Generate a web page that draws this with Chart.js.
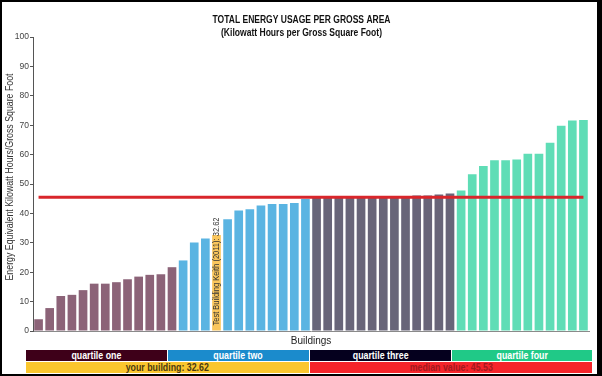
<!DOCTYPE html>
<html lang="en">
<head>
    <meta charset="UTF-8">
    <title>Total Energy Usage per Gross Area</title>
    <script src="https://cdn.jsdelivr.net/npm/chart.js"></script>
    <style>
        body {
            margin: 0;
            padding: 0;
            background-color: #ffffff;
            font-family: "Liberation Sans", Arial, sans-serif;
        }

        #wrap {
            position: relative;
            width: 602px;
            height: 376px;
            overflow: hidden;
        }

        #chart {
            position: absolute;
            left: 0;
            top: 0;
        }

        #frame {
            position: absolute;
            left: 0;
            top: 0;
            width: 602px;
            height: 376px;
            box-sizing: border-box;
            border: 2px solid #000;
            border-right-width: 5px;
            pointer-events: none;
        }

        .key {
            position: absolute;
            height: 11px;
            line-height: 11px;
            font-size: 10px;
            font-weight: bold;
            text-align: center;
            white-space: nowrap;
            overflow: hidden;
        }

        .key span {
            display: inline-block;
            transform: scaleX(0.88);
        }
    </style>
</head>
<body>
<div id="wrap">
    <canvas id="chart" width="602" height="348"></canvas>

    <div class="key" style="left:26px;top:350px;width:141px;background:#3e0019;color:#fff;"><span>quartile one</span></div>
    <div class="key" style="left:168px;top:350px;width:141px;background:#1b8bcc;color:#fff;"><span>quartile two</span></div>
    <div class="key" style="left:310px;top:350px;width:141px;background:#05001e;color:#fff;"><span>quartile three</span></div>
    <div class="key" style="left:452px;top:350px;width:140px;background:#20c987;color:#fff;"><span>quartile four</span></div>
    <div class="key" id="yourKey" style="left:26px;top:362px;width:283px;background:#fac62e;color:#4a3a10;"><span></span></div>
    <div class="key" id="medianKey" style="left:310px;top:362px;width:282px;background:#f5242a;color:#a11a1f;"><span></span></div>

    <div id="frame"></div>
</div>

<script>
    // values, sorted within each quartile
    const quartileOne = [4.0, 7.8, 11.9, 12.3, 13.9, 16.1, 16.1, 16.6, 17.6, 18.5, 19.1, 19.3, 21.7];
    const quartileTwo = [24.0, 30.1, 31.5, 32.62, 38.0, 41.0, 41.4, 42.7, 43.2, 43.2, 43.5, 44.9];
    const quartileThree = [45.3, 45.3, 45.3, 45.3, 45.3, 45.3, 45.4, 45.8, 45.8, 46.1, 46.1, 46.4, 46.8];
    const quartileFour = [47.8, 53.3, 56.1, 58.1, 58.1, 58.3, 60.3, 60.3, 64.0, 69.8, 71.6, 71.8];

    const yourBuilding = 32.62;
    const yourBuildingName = 'Test Building Keith (2011)';
    const medianValue = 45.53;

    const quartileColors = ['#8c6378', '#5ab4e2', '#686579', '#5fddb6'];
    const yourColor = '#fac65c';

    // build the flat series
    const values = [];
    const colors = [];
    let yourIndex = -1;
    [quartileOne, quartileTwo, quartileThree, quartileFour].forEach((q, qi) => {
        q.forEach(v => {
            if (v === yourBuilding && yourIndex < 0) {
                yourIndex = values.length;
                colors.push(yourColor);
            } else {
                colors.push(quartileColors[qi]);
            }
            values.push(v);
        });
    });
    const labels = values.map((v, i) => 'Building ' + (i + 1));

    document.querySelector('#yourKey span').textContent = 'your building: ' + yourBuilding;
    document.querySelector('#medianKey span').textContent = 'median value: ' + medianValue;

    // draw text squeezed to a given width (the original uses a narrow face)
    function fitText(ctx, text, x, y, width, font, color, angle) {
        ctx.save();
        ctx.font = font;
        ctx.fillStyle = color;
        ctx.textAlign = 'center';
        ctx.textBaseline = 'middle';
        ctx.translate(x, y);
        if (angle) ctx.rotate(angle);
        const w = ctx.measureText(text).width;
        ctx.scale(width / w, 1);
        ctx.fillText(text, 0, 0);
        ctx.restore();
    }

    const headerPlugin = {
        id: 'header',
        afterDraw(chart) {
            const ctx = chart.ctx;
            fitText(ctx, 'TOTAL ENERGY USAGE PER GROSS AREA', 301.5, 20, 178, 'bold 11px "Liberation Sans", Arial', '#111');
            fitText(ctx, '(Kilowatt Hours per Gross Square Foot)', 301.5, 33, 161, 'bold 11px "Liberation Sans", Arial', '#111');
            // y axis title
            fitText(ctx, 'Energy Equivalent Kilowatt Hours/Gross Square Foot', 10, 177, 207, '10px "Liberation Sans", Arial', '#333', -Math.PI / 2);
        }
    };

    const yourLabelPlugin = {
        id: 'yourLabel',
        afterDatasetsDraw(chart) {
            const meta = chart.getDatasetMeta(0);
            const bar = meta.data[yourIndex];
            if (!bar) return;
            const text = yourBuildingName + ': ' + yourBuilding;
            const len = 108;
            fitText(chart.ctx, text, bar.x + 0.5, bar.base - 5 - len / 2, len, '9px "Liberation Sans", Arial', '#333', -Math.PI / 2);
        }
    };

    const ctx = document.getElementById('chart').getContext('2d');
    new Chart(ctx, {
        type: 'bar',
        data: {
            labels: labels,
            datasets: [{
                type: 'bar',
                label: 'Buildings',
                data: values,
                backgroundColor: colors,
                borderWidth: 0,
                barPercentage: 0.78,
                categoryPercentage: 1,
                order: 1
            }, {
                type: 'line',
                label: 'Median',
                data: labels.map(() => medianValue),
                borderColor: '#d9262b',
                borderWidth: 3,
                pointRadius: 0,
                fill: false,
                order: 0
            }]
        },
        options: {
            responsive: false,
            animation: false,
            layout: {
                padding: { left: 0, right: 13, top: 37, bottom: 0 }
            },
            plugins: {
                legend: { display: false },
                tooltip: { enabled: false }
            },
            scales: {
                x: {
                    ticks: { display: false },
                    grid: { display: false },
                    border: { color: '#8a8a8a', width: 1 },
                    title: {
                        display: true,
                        text: 'Buildings',
                        color: '#222',
                        font: { size: 10, family: '"Liberation Sans", Arial' },
                        padding: { top: 0, bottom: 1 }
                    },
                    afterFit(scale) {
                        scale.height = 17;
                    }
                },
                y: {
                    min: 0,
                    max: 100,
                    ticks: {
                        stepSize: 10,
                        color: '#444',
                        padding: 1,
                        font: { size: 8.5, family: '"Liberation Sans", Arial' }
                    },
                    grid: {
                        drawOnChartArea: false,
                        tickLength: 3,
                        color: '#555'
                    },
                    border: { color: '#555', width: 1 },
                    afterFit(scale) {
                        scale.width = 33;
                    }
                }
            }
        },
        plugins: [headerPlugin, yourLabelPlugin]
    });
</script>
</body>
</html>
